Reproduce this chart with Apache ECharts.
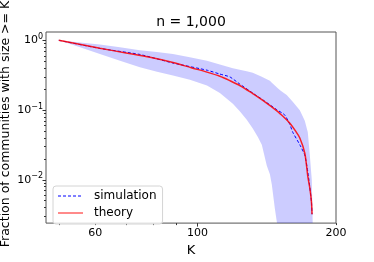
<!DOCTYPE html>
<html><head><meta charset="utf-8">
<script src="https://cdn.jsdelivr.net/npm/echarts@6/dist/echarts.min.js"></script>
<style>html,body{margin:0;padding:0;background:#fff}#c{width:374px;height:262px}</style>
</head><body><div id="c"></div>
<script>
// ---- data ----
const theoryK = [50, 61.4, 70, 78.9, 88.5, 97, 104.9, 111.9, 118, 123.6, 131.9, 138.7, 148.8, 154, 158.8, 163, 166.9, 171.1, 173.7, 175.5, 176.9, 177.4];
const theoryV = [1.0, 0.77, 0.658, 0.57, 0.48, 0.404, 0.35, 0.305, 0.261, 0.225, 0.172, 0.138, 0.0975, 0.0794, 0.0647, 0.051, 0.0397, 0.024, 0.0112, 0.0075, 0.0048, 0.0032];

const simK = [50, 61.4, 75, 88.5, 104.9, 111.9, 117.6, 123.6, 131.9, 138.7, 148.8, 154.8, 158.8, 161.1, 166.9, 171.1, 173.9, 176.9, 177.4];
const simV = [1.0, 0.765, 0.627, 0.472, 0.373, 0.328, 0.299, 0.236, 0.175, 0.140, 0.101, 0.085, 0.062, 0.048, 0.0318, 0.0225, 0.0124, 0.0048, 0.0032];

const bandK = [50, 55.6, 61.4, 67.9, 75, 81.7, 88.5, 96.3, 104.9, 111.9, 119.4, 123.6, 128, 131.9, 135.3, 138, 141.5, 143.7, 145.1, 147.3, 149.5, 151.7, 156.3, 161.1, 166.9, 171.1, 173.7, 175.4, 177.2, 178.5];
const bandUpper = [1.0, 0.93, 0.873, 0.794, 0.723, 0.679, 0.637, 0.57, 0.511, 0.45, 0.397, 0.379, 0.361, 0.344, 0.318, 0.299, 0.276, 0.263, 0.247, 0.225, 0.205, 0.189, 0.164, 0.1316, 0.0991, 0.070, 0.048, 0.0232, 0.0099, 0.001];
const bandLower = [1.0, 0.794, 0.637, 0.511, 0.410, 0.355, 0.313, 0.272, 0.225, 0.175, 0.1235, 0.096, 0.0723, 0.0544, 0.041, 0.0318, 0.0159, 0.012, 0.0085, 0.00386, 0.002, 0.0001, 0.0001, 0.0001, 0.0001, 0.0001, 0.0001, 0.0001, 0.0001, 0.0001];

const xLabelValues = [60, 100, 200];
const xMajorTicks = [100];
const xMinorTicks = [50, 60, 70, 80, 90, 200];
const yLabelValues = [0.01, 0.1, 1];
const yMinorTicks = [0.003, 0.004, 0.005, 0.006, 0.007, 0.008, 0.009,
                     0.02, 0.03, 0.04, 0.05, 0.06, 0.07, 0.08, 0.09,
                     0.2, 0.3, 0.4, 0.5, 0.6, 0.7, 0.8, 0.9];
const titleText = 'n = 1,000';
const xName = 'K';
const yName = 'Fraction of communities with size >= K';

// ---- chart ----
const FONT = 'DejaVu Sans';
const X_MIN = 46.9, X_MAX = 200, Y_MIN = 0.00239, Y_MAX = 1.316;
const zip = (a, b) => a.map((v, i) => [v, b[i]]);

const chart = echarts.init(document.getElementById('c'), null, {renderer: 'canvas'});

function supLabel(v) {
  const e = Math.round(Math.log10(v));
  return '{b|10}{s|' + (e < 0 ? '\u2212' + (-e) : e) + '}';
}

const option = {
  animation: false,
  backgroundColor: '#fff',
  title: {
    text: titleText, left: 191, top: 15, textAlign: 'center', padding: 0,
    textStyle: {fontSize: 14, fontWeight: 'normal', color: '#000', fontFamily: FONT}
  },
  grid: {left: 46, right: 38, top: 32, bottom: 30, show: true, borderColor: '#555', borderWidth: 1, backgroundColor: 'transparent'},
  legend: {
    orient: 'vertical', left: 53, top: 186,
    padding: [4, 6, 5, 4], itemGap: 5, itemWidth: 25, itemHeight: 10,
    backgroundColor: 'rgba(255,255,255,0.8)', borderColor: '#d4d4d4', borderWidth: 1, borderRadius: 3,
    itemStyle: {opacity: 0},
    textStyle: {fontSize: 12, color: '#000', fontFamily: FONT, padding: [0, 0, 0, 6]},
    data: [
      {name: 'simulation', lineStyle: {color: '#0000ff', width: 1, type: [3, 2]}},
      {name: 'theory', lineStyle: {color: '#ff8a8a', width: 2}}
    ]
  },
  xAxis: [
    {
      type: 'log', min: X_MIN, max: X_MAX, position: 'bottom',
      axisLine: {show: false}, splitLine: {show: false},
      axisTick: {show: true, customValues: xMajorTicks, length: 3.5, lineStyle: {color: '#333'}},
      axisLabel: {customValues: xLabelValues, margin: 5, fontSize: 11, color: '#000', fontFamily: FONT,
                  formatter: v => String(Math.round(v))},
      name: xName, nameLocation: 'middle', nameGap: 16,
      nameTextStyle: {fontSize: 13, color: '#000', fontFamily: FONT}
    },
    {
      type: 'log', min: X_MIN, max: X_MAX, position: 'bottom',
      axisLine: {show: false}, splitLine: {show: false},
      axisTick: {show: true, customValues: xMinorTicks, length: 2, lineStyle: {color: '#333'}},
      axisLabel: {show: false}
    }
  ],
  yAxis: [
    {
      type: 'log', min: Y_MIN, max: Y_MAX, position: 'left',
      axisLine: {show: false}, splitLine: {show: false},
      axisTick: {show: true, customValues: yLabelValues, length: 3.5, lineStyle: {color: '#333'}},
      axisLabel: {customValues: yLabelValues, margin: 3, formatter: supLabel,
        rich: {
          b: {fontSize: 11, color: '#000', fontFamily: FONT, lineHeight: 15},
          s: {fontSize: 8, color: '#000', fontFamily: FONT, verticalAlign: 'top', lineHeight: 9}
        }}
    },
    {
      type: 'log', min: Y_MIN, max: Y_MAX, position: 'left',
      axisLine: {show: false}, splitLine: {show: false},
      axisTick: {show: true, customValues: yMinorTicks, length: 2, lineStyle: {color: '#333'}},
      axisLabel: {show: false}
    }
  ],
  graphic: [{
    type: 'text', x: 5.5, y: 124, rotation: Math.PI / 2,
    style: {text: yName, fontSize: 12.5, fontFamily: FONT, fill: '#000', align: 'center', verticalAlign: 'middle'}
  }],
  series: [
    {
      name: 'band', type: 'custom', xAxisIndex: 0, yAxisIndex: 0, clip: true, silent: true, z: 1,
      data: zip(bandK, bandUpper),
      renderItem: function (params, api) {
        if (params.dataIndex !== 0) return null;
        const pts = [];
        for (let i = 0; i < bandK.length; i++) pts.push(api.coord([bandK[i], bandUpper[i]]));
        for (let i = bandK.length - 1; i >= 0; i--) pts.push(api.coord([bandK[i], bandLower[i]]));
        return {type: 'polygon', shape: {points: pts}, style: {fill: 'rgba(0,0,255,0.2)'}};
      }
    },
    {
      name: 'simulation', type: 'line', xAxisIndex: 0, yAxisIndex: 0,
      data: zip(simK, simV), symbol: 'none', smooth: 0.15,
      lineStyle: {color: '#0000ff', width: 1, type: [3, 2]}, itemStyle: {color: '#0000ff'}, z: 3
    },
    {
      name: 'theory', type: 'line', xAxisIndex: 0, yAxisIndex: 0,
      data: zip(theoryK, theoryV), symbol: 'none', smooth: 0.3,
      lineStyle: {color: 'rgba(255,0,0,0.85)', width: 1.5}, itemStyle: {color: '#ff0000'}, z: 4
    }
  ]
};
chart.setOption(option);
</script></body></html>
